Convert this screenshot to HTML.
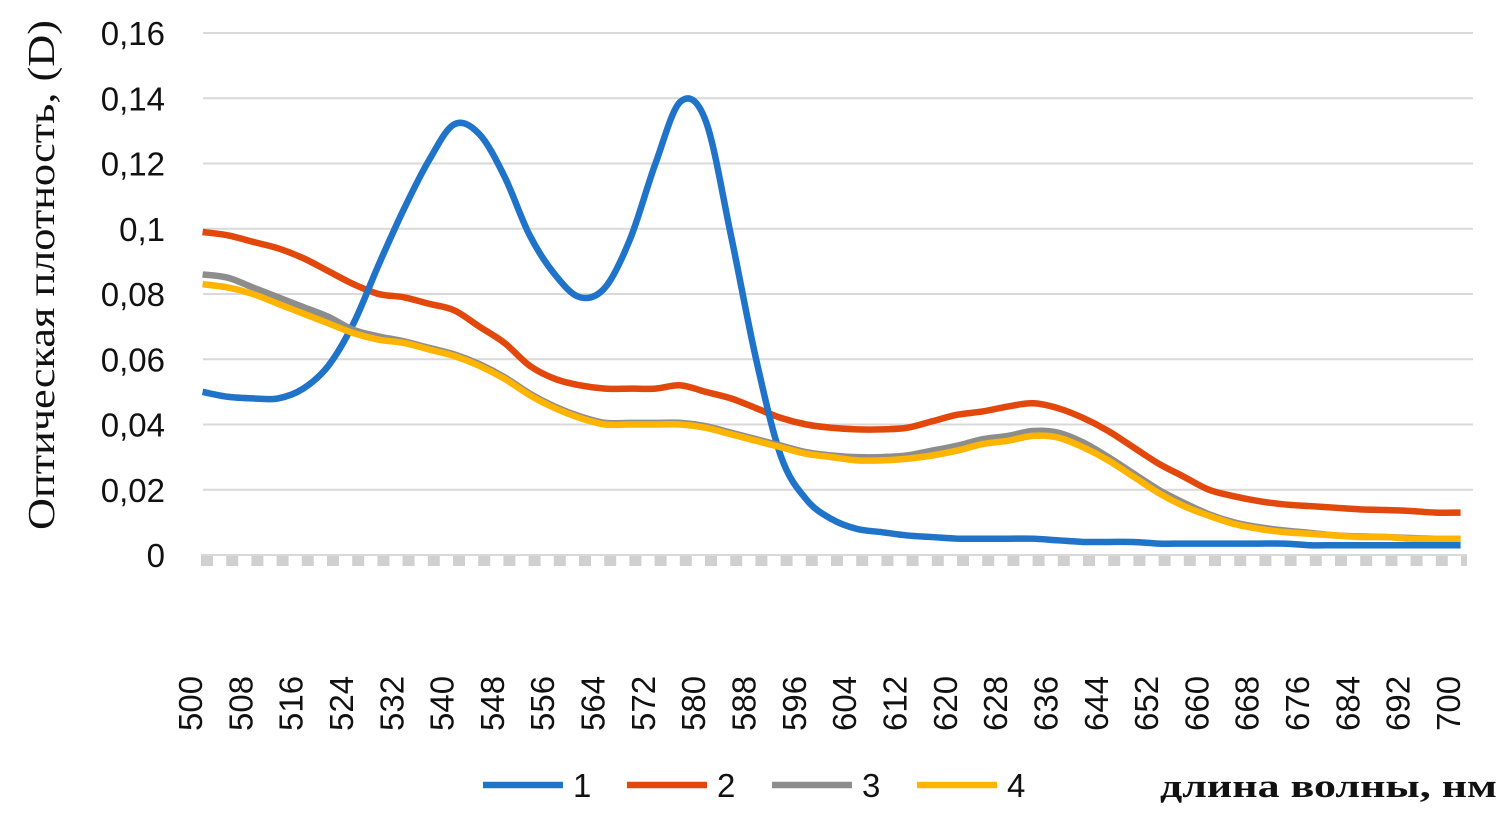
<!DOCTYPE html>
<html><head><meta charset="utf-8">
<style>
html,body{margin:0;padding:0;background:#fff;}
svg{display:block;}
</style></head>
<body>
<svg id="chart" width="1506" height="825" xmlns="http://www.w3.org/2000/svg">
<g id="grid"></g>
<g id="yticks"></g>
<g id="xticks"></g>
<g id="series"></g>
<text transform="translate(54,275) rotate(-90)" text-anchor="middle" font-family="Liberation Serif, serif" font-size="38" textLength="510" lengthAdjust="spacingAndGlyphs" fill="#111">Оптическая плотность, (D)</text>
<g id="legend"></g>
<text x="1160" y="797" font-family="Liberation Serif, serif" font-weight="bold" font-size="33" textLength="337" lengthAdjust="spacingAndGlyphs" fill="#111">длина волны, нм</text>
</svg>
<script>
const categories = [502,506,510,514,518,522,526,530,534,538,542,546,550,554,558,562,566,570,574,578,582,586,590,594,598,602,606,610,614,618,622,626,630,634,638,642,646,650,654,658,662,666,670,674,678,682,686,690,694,698,702];
const series1 = [.050,.0485,.048,.048,.051,.058,.071,.089,.106,.121,.132,.129,.116,.098,.086,.079,.082,.097,.120,.139,.133,.098,.060,.030,.017,.011,.008,.007,.006,.0055,.005,.005,.005,.005,.0045,.004,.004,.004,.0035,.0035,.0035,.0035,.0035,.0035,.003,.003,.003,.003,.003,.003,.003];
const series2 = [.099,.098,.096,.094,.091,.087,.083,.080,.079,.077,.075,.070,.065,.058,.054,.052,.051,.051,.051,.052,.050,.048,.045,.042,.040,.039,.0385,.0385,.039,.041,.043,.044,.0455,.0465,.045,.042,.038,.033,.028,.024,.020,.018,.0165,.0155,.015,.0145,.014,.0138,.0135,.013,.013];
const series3 = [.086,.085,.082,.079,.076,.073,.069,.067,.0655,.0635,.0615,.0585,.0545,.0495,.0455,.0425,.0405,.0405,.0405,.0405,.0395,.0375,.0355,.0335,.0315,.0305,.030,.030,.0305,.032,.0335,.0355,.0365,.038,.0375,.0345,.030,.025,.020,.016,.0125,.010,.0085,.0075,.0068,.006,.0057,.0055,.0052,.005,.005];
const series4 = [.083,.082,.080,.077,.074,.071,.068,.066,.065,.063,.061,.058,.054,.049,.045,.042,.040,.040,.040,.040,.039,.037,.035,.033,.031,.030,.029,.029,.0295,.0305,.032,.034,.035,.0365,.036,.033,.029,.024,.019,.015,.012,.0095,.008,.007,.0065,.006,.0055,.0055,.005,.005,.005];
const yTicks = [0,0.02,0.04,0.06,0.08,0.1,0.12,0.14,0.16];
const yTickLabels = ["0","0,02","0,04","0,06","0,08","0,1","0,12","0,14","0,16"];
const xTickLabels = [500,508,516,524,532,540,548,556,564,572,580,588,596,604,612,620,628,636,644,652,660,668,676,684,692,700];
const seriesNames = ["1","2","3","4"];

const NS="http://www.w3.org/2000/svg";
const xs = nm => 190 + (nm-500)*6.29;
const ys = v => 555 - v*3262.5;
function mk(tag, attrs, parent){const e=document.createElementNS(NS,tag);for(const k in attrs)e.setAttribute(k,attrs[k]);parent.appendChild(e);return e;}

const grid=document.getElementById('grid');
yTicks.forEach((v,i)=>{
  if(i>0){const l=mk('line',{x1:203,x2:1473,y1:ys(v),y2:ys(v),stroke:'#d9d9d9','stroke-width':2},grid);
  
  }
  const t=mk('text',{x:165,y:ys(v)+12,'text-anchor':'end','font-family':'Liberation Sans, sans-serif','font-size':33,fill:'#111'},document.getElementById('yticks'));
  t.textContent=yTickLabels[i];
  
  
});
const ax=mk('line',{x1:201,x2:1467,y1:560.5,y2:560.5,stroke:'#d0d0d0','stroke-width':11,'stroke-dasharray':'12 13.2'},grid);


const ax2=mk('line',{x1:201,x2:1467,y1:555,y2:555,stroke:'#d9d9d9','stroke-width':2},grid);



xTickLabels.forEach(nm=>{
  const x=xs(nm)+12;
  const t=mk('text',{transform:`translate(${x},731) rotate(-90)`,'text-anchor':'start','font-family':'Liberation Sans, sans-serif','font-size':33,fill:'#111'},document.getElementById('xticks'));
  t.textContent=nm;
  
  
});

function smooth(pts){
  let d=`M${pts[0][0]},${pts[0][1]}`;
  for(let i=0;i<pts.length-1;i++){
    const p0=pts[i-1]||pts[i],p1=pts[i],p2=pts[i+1],p3=pts[i+2]||p2;
    const c1=[p1[0]+(p2[0]-p0[0])/6,p1[1]+(p2[1]-p0[1])/6];
    const c2=[p2[0]-(p3[0]-p1[0])/6,p2[1]-(p3[1]-p1[1])/6];
    d+=`C${c1[0]},${c1[1]} ${c2[0]},${c2[1]} ${p2[0]},${p2[1]}`;
  }
  return d;
}
const colors=['#1f73c8','#e2480c','#8d8d8d','#ffb400'];
const allSeries=[series1,series2,series3,series4];
const sg=document.getElementById('series');
[1,0,2,3].forEach(k=>{
  const pts=categories.map((c,i)=>[xs(c),ys(allSeries[k][i])]);
  const p=mk('path',{d:smooth(pts),fill:'none',stroke:colors[k],'stroke-width':6.5,'stroke-linejoin':'round','stroke-linecap':'butt'},sg);
  
  
});

const lg=document.getElementById('legend');
const lx=[483,627,772,917];
seriesNames.forEach((n,i)=>{
  const l=mk('line',{x1:lx[i],x2:lx[i]+80,y1:785,y2:785,stroke:colors[i],'stroke-width':6.5},lg);
  
  
  const t=mk('text',{x:lx[i]+90,y:797,'font-family':'Liberation Sans, sans-serif','font-size':33,fill:'#111'},lg);
  t.textContent=n;
  
  
});
</script>
</body></html>
